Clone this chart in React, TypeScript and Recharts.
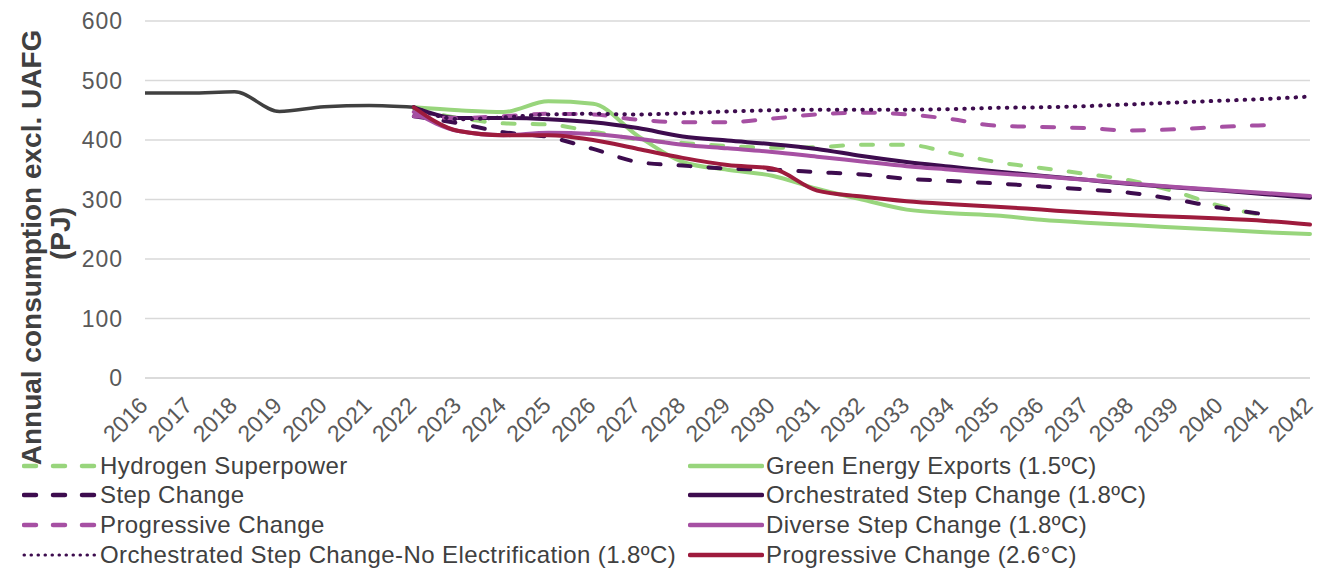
import React from 'react';
import { LineChart, Line, XAxis, YAxis, CartesianGrid, Legend } from 'recharts';

const years = [
  '2016', '2017', '2018', '2019', '2020', '2021', '2022', '2023', '2024', '2025', '2026', '2027', '2028', '2029',
  '2030', '2031', '2032', '2033', '2034', '2035', '2036', '2037', '2038', '2039', '2040', '2041', '2042',
];

const N = null;

// actuals 2016-2022
const history = [479, 479, 481, 448, 456, 458, 455, N, N, N, N, N, N, N, N, N, N, N, N, N, N, N, N, N, N, N, N];

const hydrogenSuperpower = [N, N, N, N, N, N, 452, 437, 428, 426, 414, 401, 395, 390, 387, 388, 392, 392, 378, 363, 353, 343, 332, 313, 289, 273, N];
const greenEnergyExports = [N, N, N, N, N, N, 455, 450, 447, 465, 461, 407, 363, 350, 340, 318, 300, 283, 277, 273, 266, 261, 257, 253, 249, 245, 242];
const stepChange = [N, N, N, N, N, N, 440, 428, 413, 405, 385, 363, 357, 352, 350, 346, 342, 335, 331, 327, 322, 317, 311, 300, 286, 275, N];
const orchestratedStepChange = [N, N, N, N, N, N, 455, 437, 437, 435, 430, 420, 406, 399, 393, 385, 373, 363, 355, 347, 340, 333, 326, 320, 315, 309, 303];
const progressiveChange = [N, N, N, N, N, N, 440, 437, 440, 444, 443, 434, 430, 430, 436, 443, 446, 443, 435, 424, 422, 420, 416, 418, 422, 425, N];
const diverseStepChange = [N, N, N, N, N, N, 447, 415, 408, 412, 410, 402, 392, 386, 380, 372, 364, 356, 350, 344, 339, 333, 327, 321, 316, 311, 306];
const noElectrification = [N, N, N, N, N, N, 455, 435, 438, 443, 444, 443, 445, 448, 450, 451, 451, 451, 452, 454, 455, 457, 460, 463, 466, 469, 473];
const progressiveChange26 = [N, N, N, N, N, N, 455, 415, 408, 408, 400, 385, 370, 358, 352, 315, 305, 297, 292, 288, 283, 278, 274, 271, 268, 264, 258];

const yTicks = [0, 100, 200, 300, 400, 500, 600];

const LIGHT_GREEN = '#98d57c';
const DARK_PURPLE = '#3d0c4e';
const PINK_PURPLE = '#a650a3';
const CRIMSON = '#9e1b3d';
const HIST = '#404040';

const DASH = '12 18';
const DOT = '0.5 8';

const series = [
  { key: 'hs', name: 'Hydrogen Superpower', values: hydrogenSuperpower, color: LIGHT_GREEN, dash: DASH },
  { key: 'gee', name: 'Green Energy Exports (1.5ºC)', values: greenEnergyExports, color: LIGHT_GREEN, dash: undefined },
  { key: 'sc', name: 'Step Change', values: stepChange, color: DARK_PURPLE, dash: DASH },
  { key: 'osc', name: 'Orchestrated Step Change (1.8ºC)', values: orchestratedStepChange, color: DARK_PURPLE, dash: undefined },
  { key: 'pc', name: 'Progressive Change', values: progressiveChange, color: PINK_PURPLE, dash: DASH },
  { key: 'dsc', name: 'Diverse Step Change (1.8ºC)', values: diverseStepChange, color: PINK_PURPLE, dash: undefined },
  { key: 'osne', name: 'Orchestrated Step Change-No Electrification (1.8ºC)', values: noElectrification, color: DARK_PURPLE, dash: DOT },
  { key: 'pc26', name: 'Progressive Change (2.6°C)', values: progressiveChange26, color: CRIMSON, dash: undefined },
];

const data = years.map((year, i) => {
  const row: Record<string, string | number | null> = { year, history: history[i] };
  series.forEach(s => {
    row[s.key] = s.values[i];
  });
  return row;
});

const FONT = '"Liberation Sans", Arial, sans-serif';

const XTick = (props: any) => {
  const { x, y, payload } = props;
  const px = x + 4;
  const py = y + 21;
  return (
    <text
      x={px}
      y={py}
      transform={`rotate(-45, ${px}, ${py})`}
      textAnchor="end"
      fill="#595959"
      fontSize={23}
      fontFamily={FONT}
    >
      {payload.value}
    </text>
  );
};

const YLabel = (props: any) => {
  const vb = props.viewBox || { x: 0, y: 21, width: 145, height: 357 };
  const mid = vb.y + vb.height / 2;
  const x1 = vb.x + 31;
  const y1 = mid + 48;
  const x2 = vb.x + 60;
  const y2 = mid + 34;
  return (
    <g fill="#404040" fontFamily={FONT} fontWeight="bold" fontSize={28}>
      <text x={x1} y={y1} transform={`rotate(-90, ${x1}, ${y1})`} textAnchor="middle" dominantBaseline="central">
        Annual consumption excl. UAFG
      </text>
      <text x={x2} y={y2} transform={`rotate(-90, ${x2}, ${y2})`} textAnchor="middle" dominantBaseline="central">
        (PJ)
      </text>
    </g>
  );
};

const LegendBox = () => (
  <div
    style={{
      height: 117,
      display: 'grid',
      gridTemplateColumns: '666px 1fr',
      gridAutoRows: '29.6px',
      paddingLeft: 22,
      boxSizing: 'border-box',
      fontFamily: FONT,
      fontSize: 24,
      letterSpacing: 0.4,
      color: '#404040',
    }}
  >
    {series.map(s => (
      <div key={s.key} style={{ display: 'flex', alignItems: 'center', whiteSpace: 'nowrap' }}>
        <svg width={76} height={10} style={{ marginRight: 2, flex: 'none' }}>
          <line
            x1={2}
            y1={5}
            x2={74}
            y2={5}
            stroke={s.color}
            strokeWidth={s.dash === DOT ? 3 : 4.5}
            strokeDasharray={s.dash === DASH ? '12 17' : s.dash === DOT ? '0.5 6.5' : undefined}
            strokeLinecap="round"
          />
        </svg>
        <span>{s.name}</span>
      </div>
    ))}
  </div>
);

const App: React.FC = () => {
  return (
    <div style={{ position: 'absolute', left: 0, top: 0, width: 1321, height: 568, background: '#fff' }}>
      <LineChart width={1321} height={568} data={data} margin={{ top: 21, right: 11, left: 0, bottom: 0 }}>
        <CartesianGrid vertical={false} stroke="#d9d9d9" strokeWidth={1.5} />
        <XAxis
          dataKey="year"
          interval={0}
          height={73}
          axisLine={{ stroke: '#d9d9d9', strokeWidth: 1.5 }}
          tickLine={false}
          tick={<XTick />}
        />
        <YAxis
          domain={[0, 600]}
          ticks={yTicks}
          width={145}
          axisLine={false}
          tickLine={false}
          tickMargin={16}
          tick={{ fill: '#595959', fontSize: 23, fontFamily: FONT, letterSpacing: 1 }}
          label={{ content: YLabel }}
        />
        <Legend
          verticalAlign="bottom"
          align="left"
          height={117}
          wrapperStyle={{ left: 0, bottom: 0, width: 1321 }}
          content={() => <LegendBox />}
        />
        <Line
          dataKey="history"
          type="monotone"
          stroke={HIST}
          strokeWidth={3.5}
          dot={false}
          isAnimationActive={false}
          legendType="none"
        />
        {series.map(s => (
          <Line
            key={s.key}
            dataKey={s.key}
            name={s.name}
            type="monotone"
            stroke={s.color}
            strokeWidth={s.dash === DOT ? 4 : 4}
            strokeDasharray={s.dash}
            strokeLinecap="round"
            dot={false}
            isAnimationActive={false}
          />
        ))}
      </LineChart>
    </div>
  );
};

export default App;
